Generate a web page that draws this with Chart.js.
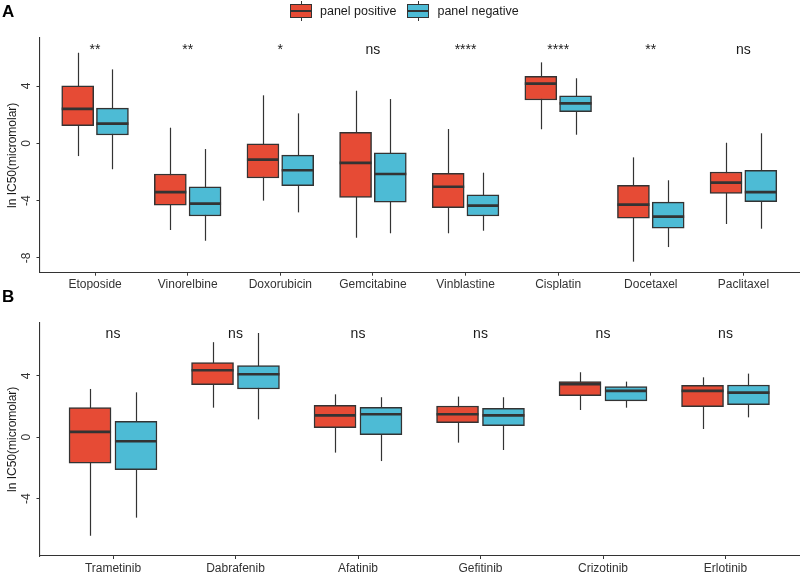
<!DOCTYPE html>
<html>
<head>
<meta charset="utf-8">
<script src="https://cdn.jsdelivr.net/npm/chart.js@4/dist/chart.umd.min.js"></script>
<style>
  html, body { margin: 0; padding: 0; background: #fff; }
  #wrap { position: relative; width: 800px; height: 573px; overflow: hidden; font-family: "Liberation Sans", Arial, sans-serif; }
  .plabel { position: absolute; font-weight: bold; font-size: 17px; line-height: 17px; color: #000; }
  .box { position: absolute; }
  #legend { position: absolute; top: 1px; left: 290px; display: flex; align-items: center; font-size: 12.5px; color: #1a1a1a; }
  .item { display: flex; align-items: center; margin-right: 11px; }
  .icon { position: relative; width: 22px; height: 20px; margin-right: 8px; }
  .icon .wh { position: absolute; left: 10.5px; top: 0; width: 1px; height: 20px; background: #333; }
  .icon .bx { position: absolute; left: 0; top: 3px; width: 20px; height: 12px; border: 1px solid #333; }
  .icon .md { position: absolute; left: 1px; top: 8.5px; width: 20px; height: 2px; background: #333; }
</style>
</head>
<body>
<div id="wrap">
  <div class="box" style="left:0;top:0;width:800px;height:290px"><canvas id="chartA"></canvas></div>
  <div class="box" style="left:0;top:290px;width:800px;height:283px"><canvas id="chartB"></canvas></div>
  <div class="plabel" style="left:2px;top:3px">A</div>
  <div class="plabel" style="left:2px;top:288px">B</div>
  <div id="legend">
    <div class="item"><div class="icon"><div class="wh"></div><div class="bx" style="background:#E64B35"></div><div class="md"></div></div><span>panel positive</span></div>
    <div class="item"><div class="icon"><div class="wh"></div><div class="bx" style="background:#4DBBD5"></div><div class="md"></div></div><span>panel negative</span></div>
  </div>
</div>
<script>
// ---- data: each row = [lower whisker, Q1, median, Q3, upper whisker] ----
const catsA = ['Etoposide','Vinorelbine','Doxorubicin','Gemcitabine','Vinblastine','Cisplatin','Docetaxel','Paclitaxel'];
const posA = [
  [-0.89, 1.23, 2.41, 4.02, 6.32],
  [-6.05, -4.31, -3.40, -2.14, 1.09],
  [-4.00, -2.42, -1.14, 0.00, 3.35],
  [-6.59, -3.77, -1.37, 0.77, 3.67],
  [-6.28, -4.49, -3.03, -2.09, 1.00],
  [0.98, 3.02, 4.16, 4.67, 5.65],
  [-8.26, -5.23, -4.28, -2.93, -0.98],
  [-5.63, -3.49, -2.75, -2.00, 0.04]
];
const negA = [
  [-1.81, 0.58, 1.37, 2.46, 5.16],
  [-6.80, -5.07, -4.21, -3.03, -0.40],
  [-4.82, -2.96, -1.88, -0.82, 2.09],
  [-6.28, -4.10, -2.14, -0.66, 3.09],
  [-6.10, -5.07, -4.35, -3.59, -2.05],
  [0.60, 2.21, 2.79, 3.32, 4.54],
  [-7.24, -5.93, -5.12, -4.10, -2.58],
  [-5.96, -4.07, -3.40, -1.88, 0.70]
];
const sigA = ['**','**','*','ns','****','****','**','ns'];
const yTicksA = [-8, -4, 0, 4];

const catsB = ['Trametinib','Dabrafenib','Afatinib','Gefitinib','Crizotinib','Erlotinib'];
const posB = [
  [-6.42, -1.68, 0.35, 1.93, 3.15],
  [1.93, 3.43, 4.37, 4.87, 6.20],
  [-1.00, 0.63, 1.43, 2.09, 2.80],
  [-0.35, 0.95, 1.50, 2.04, 2.65],
  [1.78, 2.71, 3.46, 3.63, 4.24],
  [0.54, 2.00, 3.02, 3.39, 3.91]
];
const negB = [
  [-5.24, -2.11, -0.26, 1.04, 2.93],
  [1.17, 3.15, 4.11, 4.67, 6.80],
  [-1.55, 0.17, 1.50, 1.96, 2.61],
  [-0.83, 0.76, 1.43, 1.89, 2.61],
  [1.93, 2.37, 3.02, 3.30, 3.63],
  [1.30, 2.13, 2.91, 3.41, 4.15]
];
const sigB = ['ns','ns','ns','ns','ns','ns'];
const yTicksB = [-4, 0, 4];

const seriesNames = ['panel positive', 'panel negative'];
const RED = '#E64B35', BLUE = '#4DBBD5', EDGE = '#333333';
const FONT = "'Liberation Sans', Arial, sans-serif";

const boxParts = {
  id: 'boxParts',
  beforeDatasetsDraw(chart) {
    const {ctx, scales: {x, y}} = chart;
    ctx.save();
    ctx.strokeStyle = EDGE; ctx.lineWidth = 1.2;
    chart.data.datasets.forEach((ds) => {
      ds.stats.forEach((s, i) => {
        const px = Math.round(x.getPixelForValue(ds.data[i].x)) + 0.5;
        ctx.beginPath();
        ctx.moveTo(px, y.getPixelForValue(s[0]));
        ctx.lineTo(px, y.getPixelForValue(s[4]));
        ctx.stroke();
      });
    });
    ctx.restore();
  },
  afterDatasetsDraw(chart, args, opts) {
    const {ctx, scales: {x, y}} = chart;
    ctx.save();
    ctx.strokeStyle = EDGE; ctx.lineWidth = 2.7;
    chart.data.datasets.forEach((ds, di) => {
      const meta = chart.getDatasetMeta(di);
      meta.data.forEach((bar, i) => {
        const half = bar.width / 2;
        const py = y.getPixelForValue(ds.stats[i][2]);
        ctx.beginPath();
        ctx.moveTo(bar.x - half, py);
        ctx.lineTo(bar.x + half, py);
        ctx.stroke();
      });
    });
    ctx.fillStyle = '#1a1a1a';
    ctx.font = '14px ' + FONT;
    ctx.textAlign = 'center';
    ctx.textBaseline = 'alphabetic';
    opts.labels.forEach((t, i) => {
      ctx.fillText(t, x.getPixelForValue(i), y.getPixelForValue(opts.labelY));
    });
    ctx.restore();
  }
};

function makeChart(id, cats, pos, neg, sig, yTicks, cfg) {
  const off = 0.1875;
  const mk = (stats, name, color, dx) => ({
    label: name,
    data: stats.map((s, i) => ({x: i + dx, y: [s[1], s[3]]})),
    stats: stats,
    backgroundColor: color,
    borderColor: EDGE,
    borderWidth: 1.5,
    borderSkipped: false,
    grouped: false,
    barThickness: cfg.barW
  });
  return new Chart(document.getElementById(id), {
    type: 'bar',
    data: {
      datasets: [mk(pos, seriesNames[0], RED, -off), mk(neg, seriesNames[1], BLUE, off)]
    },
    plugins: [boxParts],
    options: {
      responsive: true,
      maintainAspectRatio: false,
      animation: false,
      layout: { padding: { top: cfg.padTop, right: 1, left: 0, bottom: 0 } },
      plugins: {
        legend: { display: false },
        tooltip: { enabled: false },
        boxParts: { labels: sig, labelY: cfg.sigY }
      },
      scales: {
        x: {
          type: 'linear',
          offset: false,
          min: -0.6,
          max: cats.length - 0.4,
          afterBuildTicks: (s) => { s.ticks = cats.map((c, i) => ({value: i})); },
          afterFit: (s) => { s.height = cfg.xH; },
          ticks: {
            callback: (v) => cats[v],
            autoSkip: false, maxRotation: 0, minRotation: 0,
            color: '#333', padding: 2,
            font: { family: FONT, size: 12 }
          },
          grid: { display: true, offset: false, drawOnChartArea: false, drawTicks: true, tickLength: 3, color: EDGE, lineWidth: 1 },
          border: { display: true, color: EDGE, width: 1.1 }
        },
        y: {
          type: 'linear',
          min: cfg.yMin,
          max: cfg.yMax,
          afterBuildTicks: (s) => { s.ticks = yTicks.map(v => ({value: v})); },
          afterFit: (s) => { s.width = 39.5; },
          ticks: {
            minRotation: 90, maxRotation: 90,
            crossAlign: 'center',
            color: '#333', padding: 4,
            font: { family: FONT, size: 12 }
          },
          title: {
            display: true,
            text: 'ln IC50(micromolar)',
            color: '#1a1a1a',
            font: { family: FONT, size: 12 },
            padding: { top: 5, bottom: 0 }
          },
          grid: { display: true, drawOnChartArea: false, drawTicks: true, tickLength: 3, color: EDGE, lineWidth: 1 },
          border: { display: true, color: EDGE, width: 1.1 }
        }
      }
    }
  });
}

makeChart('chartA', catsA, posA, negA, sigA, yTicksA,
  { barW: 32, padTop: 38, xH: 17.3, yMin: -9.03, yMax: 7.35, sigY: 6.23 });
makeChart('chartB', catsB, posB, negB, sigB, yTicksB,
  { barW: 42, padTop: 32.7, xH: 17, yMin: -7.74, yMax: 7.47, sigY: 6.48 });
</script>
</body>
</html>
